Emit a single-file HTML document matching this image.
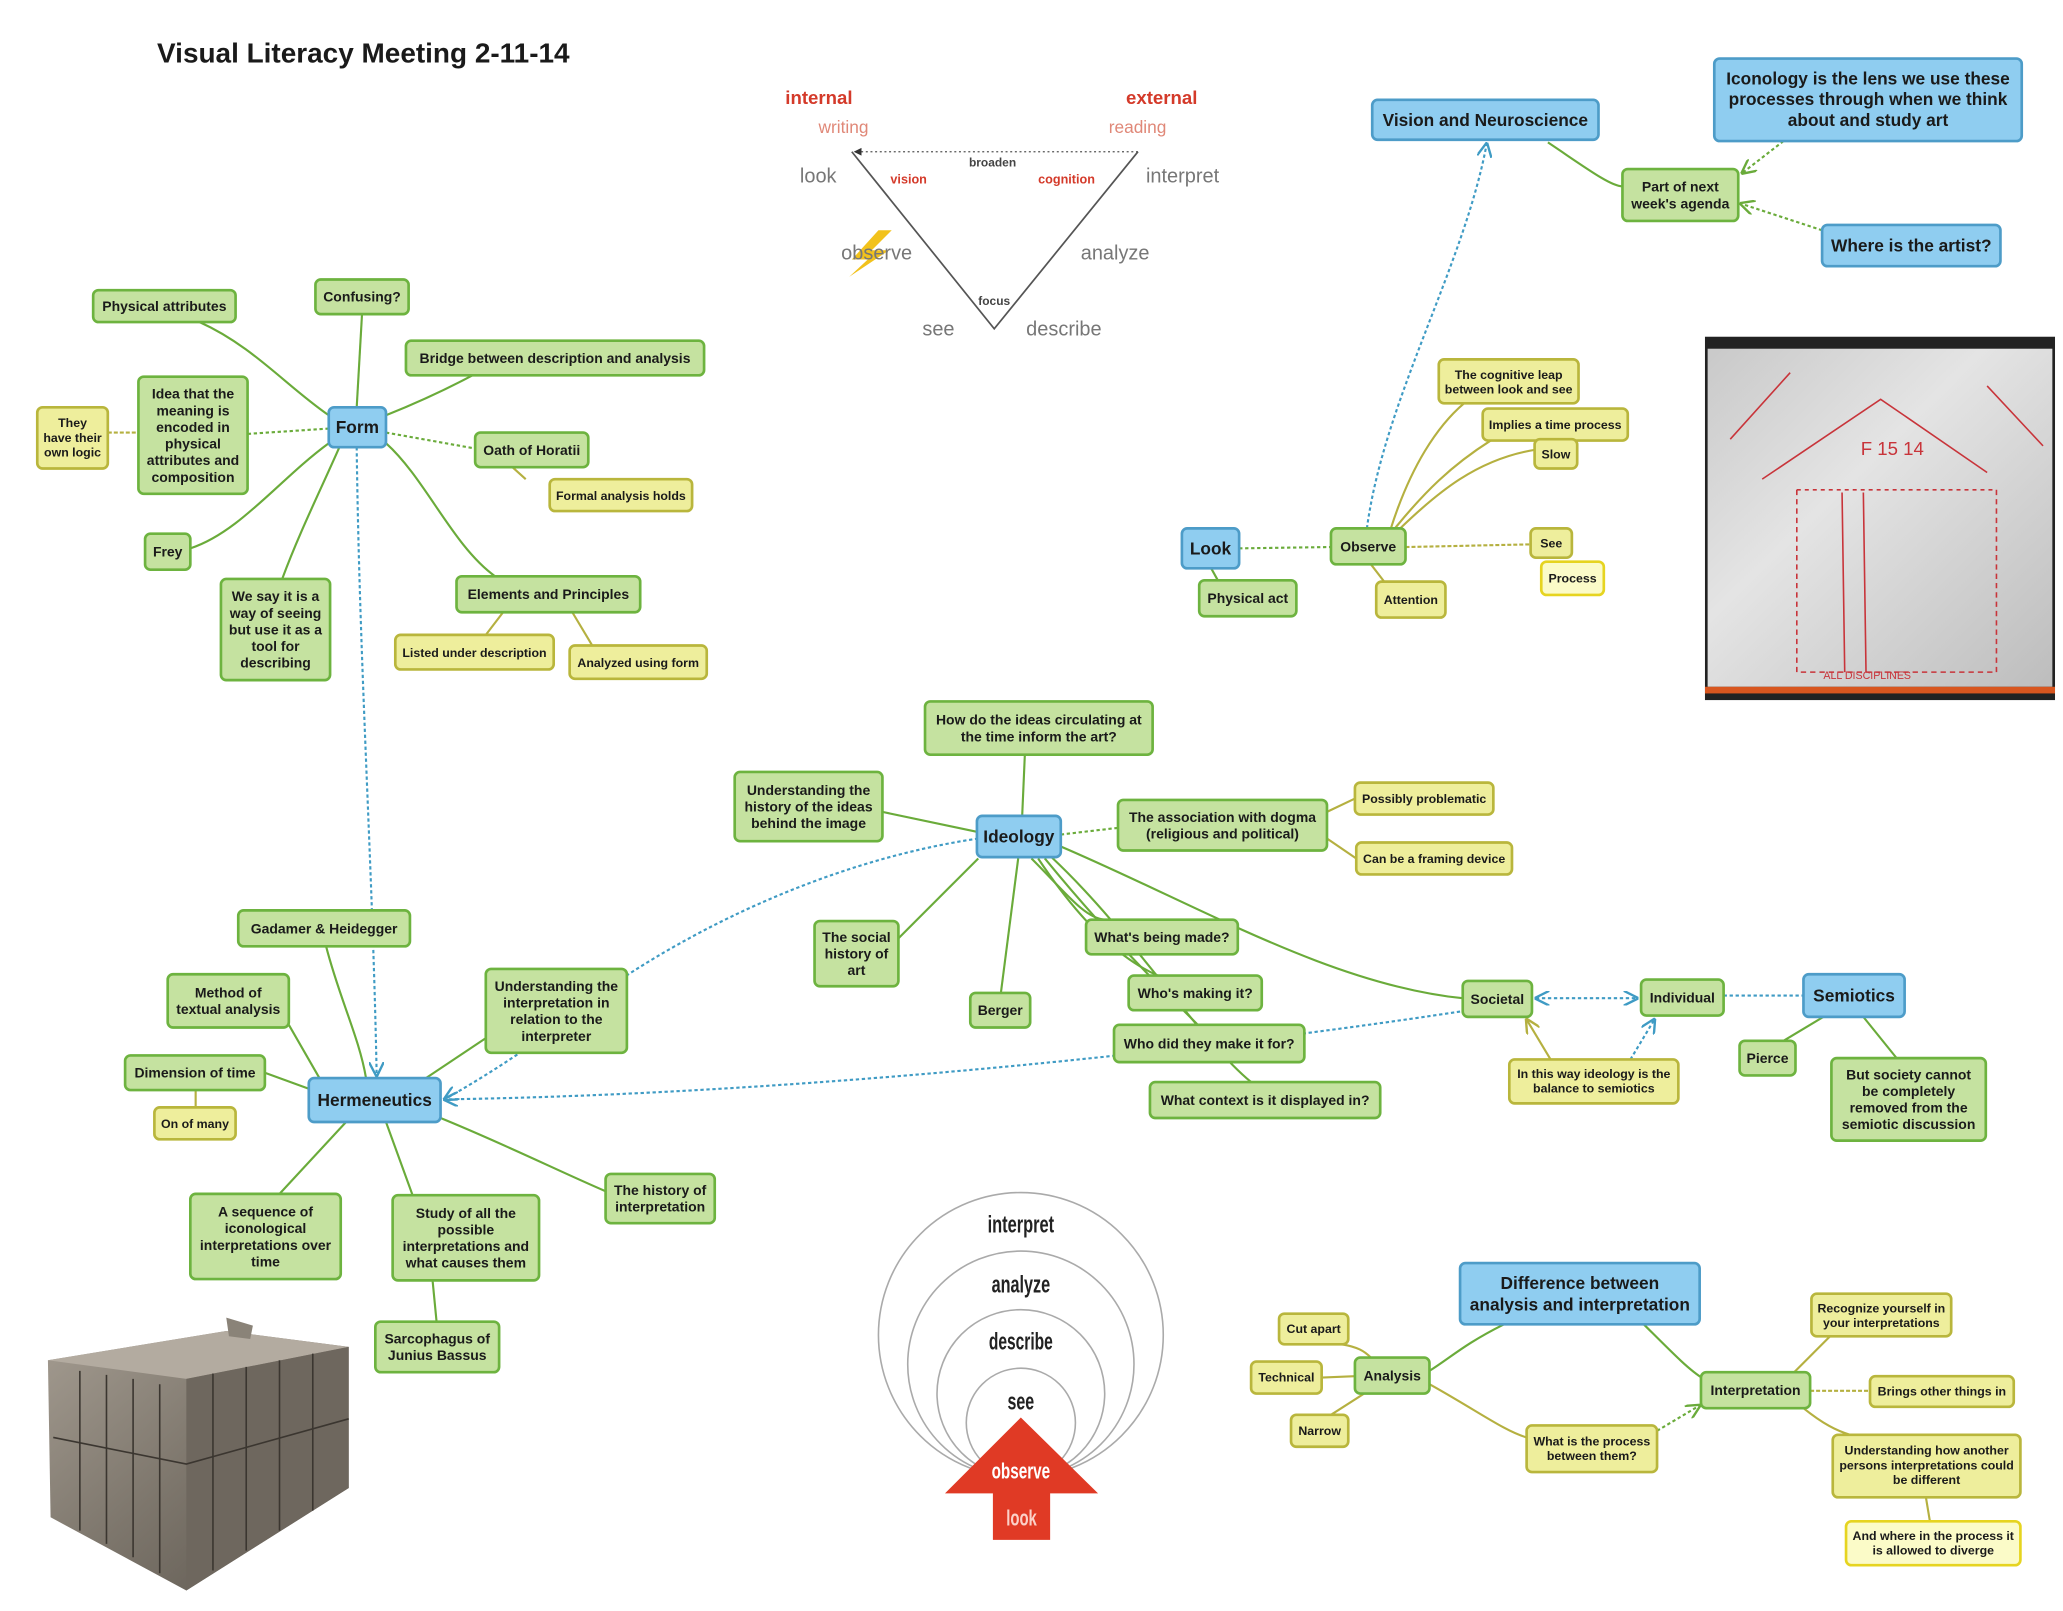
<!DOCTYPE html>
<html><head><meta charset="utf-8">
<style>
html,body{margin:0;padding:0;background:#fff}
svg{display:block}
text{font-family:"Liberation Sans",Arial,sans-serif;font-weight:bold;fill:#1a1a1a}
.g rect{fill:#c5e2a0;stroke:#6db33f;stroke-width:2}
.y rect{fill:#eeee9c;stroke:#b9b63c;stroke-width:2}
.yb rect{fill:#fbfbc8;stroke:#e6d420;stroke-width:2}
.b rect{fill:#8fcdf0;stroke:#4d9cc8;stroke-width:2}
.n text{text-anchor:middle;font-size:10.5px}
.s text{font-size:9.3px}
.big text{font-size:13px}
.lg{fill:none;stroke:#6aab3a;stroke-width:1.6}
.lo{fill:none;stroke:#b5b040;stroke-width:1.6}
.bd{fill:none;stroke:#3f9bc4;stroke-width:1.6;stroke-dasharray:2.5 2}
.gd{fill:none;stroke:#6aab3a;stroke-width:1.6;stroke-dasharray:2.5 2}
.od{fill:none;stroke:#b5b040;stroke-width:1.6;stroke-dasharray:3 1.5}
.cl{font-size:18px;fill:#222}
</style></head>
<body>
<svg width="2063" height="1611" viewBox="0 0 1550 1210.4" xmlns="http://www.w3.org/2000/svg">
<defs>
<marker id="ab" viewBox="0 0 10 10" refX="9" refY="5" markerWidth="7" markerHeight="7" orient="auto-start-reverse"><path d="M0,0 L10,5 L0,10" fill="none" stroke="#3f9bc4" stroke-width="1.6"/></marker>
<marker id="ag" viewBox="0 0 10 10" refX="9" refY="5" markerWidth="7" markerHeight="7" orient="auto-start-reverse"><path d="M0,0 L10,5 L0,10" fill="none" stroke="#6aab3a" stroke-width="1.6"/></marker>
<marker id="ao" viewBox="0 0 10 10" refX="9" refY="5" markerWidth="7" markerHeight="7" orient="auto-start-reverse"><path d="M0,0 L10,5 L0,10" fill="none" stroke="#b5b040" stroke-width="1.6"/></marker>
<marker id="ak" viewBox="0 0 10 10" refX="9" refY="5" markerWidth="6" markerHeight="6" orient="auto"><path d="M0,0 L10,5 L0,10 z" fill="#333"/></marker>
<linearGradient id="wb" x1="0" y1="0" x2="1" y2="1"><stop offset="0" stop-color="#c9c9c9"/><stop offset="0.4" stop-color="#e4e4e4"/><stop offset="1" stop-color="#bdbdbd"/></linearGradient>
<linearGradient id="sc" x1="0" y1="0" x2="1" y2="1"><stop offset="0" stop-color="#a39b90"/><stop offset="0.5" stop-color="#7d766c"/><stop offset="1" stop-color="#5b554d"/></linearGradient>
</defs>

<text x="118" y="47" style="font-size:21px">Visual Literacy Meeting 2-11-14</text>

<!-- Form -->
<path class="lg" d="M247,312 C215,290 190,260 150,242"/>
<path class="lg" d="M268,306 L272,236"/>
<path class="lg" d="M290,312 C320,300 340,290 355,282"/>
<path class="gd" d="M247,322 L186,326"/>
<path class="od" d="M81,325 L104,325"/>
<path class="gd" d="M290,325 L357,337"/>
<path class="lo" d="M385,351 L395,360"/>
<path class="lg" d="M247,333 C210,360 180,400 143,412"/>
<path class="lg" d="M255,336 C240,370 225,400 212,435"/>
<path class="lg" d="M290,333 C320,360 340,410 372,433"/>
<path class="lo" d="M378,460 L365,477"/>
<path class="lo" d="M430,460 L445,485"/>
<path class="bd" d="M268,336 C270,500 280,650 283,808" marker-end="url(#ab)"/>
<!-- Hermeneutics -->
<path class="lg" d="M245,711 C255,750 270,780 275,810"/>
<path class="lg" d="M217,770 L240,810"/>
<path class="lg" d="M199,806 L232,818"/>
<path class="lo" d="M147,819 L147,832"/>
<path class="lg" d="M365,780 L320,810"/>
<path class="lg" d="M331,840 C380,860 420,880 455,895"/>
<path class="lg" d="M260,843 L210,897"/>
<path class="lg" d="M290,843 L310,898"/>
<path class="lg" d="M325,962 L328,993"/>
<!-- Ideology -->
<path class="lg" d="M770,567 L768,613"/>
<path class="lg" d="M663,610 L734,625"/>
<path class="gd" d="M797,627 L840,622"/>
<path class="lo" d="M997,610 L1018,600"/>
<path class="lo" d="M997,630 L1019,645"/>
<path class="lg" d="M735,645 C710,670 690,690 675,705"/>
<path class="lg" d="M765,645 L752,746"/>
<path class="lg" d="M775,645 C800,670 815,690 830,691"/>
<path class="lg" d="M780,645 C810,690 840,720 870,733"/>
<path class="lg" d="M785,645 C830,700 870,740 900,770"/>
<path class="lg" d="M790,644 C850,700 900,780 940,813"/>
<path class="lg" d="M797,636 C900,680 1000,740 1099,750"/>
<path class="bd" d="M735,630 C600,650 480,720 420,770 Q380,800 334,826" marker-end="url(#ab)"/>
<path class="bd" d="M1097,760 C900,790 600,822 334,826" marker-end="url(#ab)"/>
<path class="bd" d="M1154,750 L1230,750" marker-start="url(#ab)" marker-end="url(#ab)"/>
<path class="bd" d="M1295,748 L1355,748"/>
<path class="lg" d="M1340,782 L1370,764"/>
<path class="lg" d="M1400,764 L1425,795"/>
<path class="lo" d="M1165,796 L1147,766" marker-end="url(#ao)"/>
<path class="bd" d="M1225,796 L1243,766" marker-end="url(#ab)"/>
<!-- Observe -->
<path class="gd" d="M931,412 L1000,411"/>
<path class="lg" d="M910,427 L915,436"/>
<path class="od" d="M1056,411 L1150,409"/>
<path class="lo" d="M1030,424 L1040,437"/>
<path class="lo" d="M1045,397 C1060,350 1080,320 1100,303"/>
<path class="lo" d="M1048,397 C1070,370 1090,350 1120,331"/>
<path class="lo" d="M1052,397 C1080,370 1110,345 1153,338"/>
<path class="bd" d="M1027,397 C1040,300 1100,200 1117,108" marker-end="url(#ab)"/>
<path class="lg" d="M1163,107 C1190,125 1210,140 1219,140"/>
<path class="gd" d="M1340,106 L1309,130" marker-end="url(#ag)"/>
<path class="gd" d="M1369,173 L1308,153" marker-end="url(#ag)"/>
<!-- Difference -->
<path class="lg" d="M1130,995 C1100,1010 1090,1020 1074,1030"/>
<path class="lg" d="M1235,995 C1260,1020 1270,1030 1280,1036"/>
<path class="lo" d="M1008,1010 C1020,1012 1025,1015 1030,1020"/>
<path class="lo" d="M993,1035 L1018,1034"/>
<path class="lo" d="M1000,1063 L1025,1047"/>
<path class="lo" d="M1074,1040 C1110,1060 1130,1075 1147,1080"/>
<path class="gd" d="M1245,1075 L1277,1056" marker-end="url(#ag)"/>
<path class="lo" d="M1375,1004 L1348,1031"/>
<path class="od" d="M1360,1045 L1405,1045"/>
<path class="lo" d="M1355,1058 C1370,1070 1380,1075 1390,1078"/>
<path class="lo" d="M1447,1125 L1450,1143"/>

<!-- Triangle diagram -->
<g>
<path d="M640,114 L747,247 L855,114" fill="none" stroke="#555" stroke-width="1.3"/>
<path d="M855,114 L642,114" fill="none" stroke="#555" stroke-width="1" stroke-dasharray="1.5 2" marker-end="url(#ak)"/>
<text x="590" y="78" style="font-size:14px;fill:#d43a2a">internal</text>
<text x="615" y="100" style="font-size:13px;fill:#e08878;font-weight:normal">writing</text>
<text x="846" y="78" style="font-size:14px;fill:#d43a2a">external</text>
<text x="833" y="100" style="font-size:13px;fill:#e08878;font-weight:normal">reading</text>
<text x="601" y="137" style="font-size:15px;fill:#777;font-weight:normal">look</text>
<text x="861" y="137" style="font-size:15px;fill:#777;font-weight:normal">interpret</text>
<path d="M660,173 L640,195 L652,195 L638,208 L668,188 L655,188 L670,173 z" fill="#f2c21c"/>
<text x="632" y="195" style="font-size:15px;fill:#777;font-weight:normal">observe</text>
<text x="812" y="195" style="font-size:15px;fill:#777;font-weight:normal">analyze</text>
<text x="693" y="252" style="font-size:15px;fill:#777;font-weight:normal">see</text>
<text x="771" y="252" style="font-size:15px;fill:#777;font-weight:normal">describe</text>
<text x="728" y="125" style="font-size:9px;fill:#444">broaden</text>
<text x="669" y="138" style="font-size:9.5px;fill:#d43a2a">vision</text>
<text x="780" y="138" style="font-size:9.5px;fill:#d43a2a">cognition</text>
<text x="735" y="229" style="font-size:9px;fill:#444">focus</text>
</g>

<!-- Circles diagram -->
<g fill="none" stroke="#aaa" stroke-width="1.2">
<circle cx="767" cy="1003" r="107"/>
<circle cx="767" cy="1025" r="85"/>
<circle cx="767" cy="1047" r="63"/>
<circle cx="767" cy="1069" r="41"/>
</g>
<text class="cl" x="742" y="926" textLength="50" lengthAdjust="spacingAndGlyphs">interpret</text>
<text class="cl" x="745" y="971" textLength="44" lengthAdjust="spacingAndGlyphs">analyze</text>
<text class="cl" x="743" y="1014" textLength="48" lengthAdjust="spacingAndGlyphs">describe</text>
<text class="cl" x="757" y="1059" textLength="20" lengthAdjust="spacingAndGlyphs">see</text>
<path d="M710,1122 L767,1065 L825,1122 L789,1122 L789,1157 L746,1157 L746,1122 z" fill="#e03a25"/>
<text x="745" y="1111" textLength="44" lengthAdjust="spacingAndGlyphs" style="font-size:17px;fill:#fff">observe</text>
<text x="756" y="1146" textLength="23" lengthAdjust="spacingAndGlyphs" style="font-size:17px;fill:#fbd0c8">look</text>

<!-- Whiteboard photo -->
<g>
<rect x="1281" y="253" width="263" height="273" fill="#222"/>
<rect x="1283" y="262" width="259" height="254" fill="url(#wb)"/>
<rect x="1281" y="516" width="263" height="5" fill="#d8561f"/>
<g fill="none" stroke="#c8343a" stroke-width="1.2">
<path d="M1324,360 L1413,300 L1493,355"/>
<path d="M1300,330 L1345,280 M1493,290 L1535,335"/>
<path d="M1350,368 L1350,505 L1500,505 L1500,368" stroke-dasharray="4 3"/>
<path d="M1350,368 L1500,368" stroke-dasharray="3 3"/>
<path d="M1384,370 L1386,505 M1400,370 L1402,505"/>
</g>
<text x="1398" y="342" style="fill:#c8343a;font-size:14px;font-weight:normal">F 15 14</text>
<text x="1370" y="510" style="fill:#c8343a;font-size:8px;font-weight:normal">ALL  DISCIPLINES</text>
</g>

<!-- Sarcophagus photo -->
<g>
<path d="M36,1022 L170,1000 L262,1012 L262,1118 L140,1195 L38,1140 z" fill="url(#sc)"/>
<path d="M36,1022 L170,1000 L262,1012 L140,1036 z" fill="#b3aba0"/>
<path d="M140,1036 L262,1012 L262,1118 L140,1195 z" fill="#6e675e"/>
<g stroke="#3b3630" stroke-width="1.2" fill="none">
<path d="M40,1080 L140,1100 L262,1066"/>
<path d="M60,1030 L60,1150 M80,1033 L80,1160 M100,1036 L100,1170 M120,1040 L120,1182"/>
<path d="M160,1032 L160,1180 M185,1027 L185,1165 M210,1022 L210,1150 M235,1017 L235,1135"/>
</g>
<path d="M170,990 L190,996 L188,1006 L172,1004 z" fill="#8a8378"/>
</g>

<!-- Nodes -->
<g class="n">
<g class="g"><rect x="70" y="218" width="107" height="24" rx="4"/><text x="123.5" y="233.7">Physical attributes</text></g>
<g class="g"><rect x="237" y="210" width="70" height="26" rx="4"/><text x="272" y="226.7">Confusing?</text></g>
<g class="g"><rect x="305" y="256" width="224" height="26" rx="4"/><text x="417" y="272.7">Bridge between description and analysis</text></g>
<g class="g"><rect x="104" y="283" width="82" height="88" rx="4"/><text x="145" y="299.5">Idea that the<tspan x="145" dy="12.5">meaning is</tspan><tspan x="145" dy="12.5">encoded in</tspan><tspan x="145" dy="12.5">physical</tspan><tspan x="145" dy="12.5">attributes and</tspan><tspan x="145" dy="12.5">composition</tspan></text></g>
<g class="y s"><rect x="28" y="306" width="53" height="46" rx="4"/><text x="54.5" y="321">They<tspan x="54.5" dy="11">have their</tspan><tspan x="54.5" dy="11">own logic</tspan></text></g>
<g class="b big"><rect x="247" y="306" width="43" height="30" rx="4"/><text x="268.5" y="325.5">Form</text></g>
<g class="g"><rect x="357" y="325" width="85" height="26" rx="4"/><text x="399.5" y="341.7">Oath of Horatii</text></g>
<g class="y s"><rect x="413" y="360" width="107" height="24" rx="4"/><text x="466.5" y="375.5">Formal analysis holds</text></g>
<g class="g"><rect x="109" y="401" width="34" height="27" rx="4"/><text x="126" y="418.2">Frey</text></g>
<g class="g"><rect x="166" y="435" width="82" height="76" rx="4"/><text x="207" y="451.7">We say it is a<tspan x="207" dy="12.5">way of seeing</tspan><tspan x="207" dy="12.5">but use it as a</tspan><tspan x="207" dy="12.5">tool for</tspan><tspan x="207" dy="12.5">describing</tspan></text></g>
<g class="g"><rect x="343" y="433" width="138" height="27" rx="4"/><text x="412" y="450.2">Elements and Principles</text></g>
<g class="y s"><rect x="297" y="477" width="119" height="26" rx="4"/><text x="356.5" y="493.5">Listed under description</text></g>
<g class="y s"><rect x="428" y="485" width="103" height="25" rx="4"/><text x="479.5" y="501">Analyzed using form</text></g>

<g class="g"><rect x="179" y="684" width="129" height="27" rx="4"/><text x="243.5" y="701.2">Gadamer &amp; Heidegger</text></g>
<g class="g"><rect x="126" y="732" width="91" height="40" rx="4"/><text x="171.5" y="749.5">Method of<tspan x="171.5" dy="12.5">textual analysis</tspan></text></g>
<g class="g"><rect x="94" y="793" width="105" height="26" rx="4"/><text x="146.5" y="809.7">Dimension of time</text></g>
<g class="y s"><rect x="116" y="832" width="61" height="24" rx="4"/><text x="146.5" y="847.5">On of many</text></g>
<g class="b big"><rect x="232" y="810" width="99" height="33" rx="4"/><text x="281.5" y="831">Hermeneutics</text></g>
<g class="g"><rect x="365" y="728" width="106" height="63" rx="4"/><text x="418" y="744.5">Understanding the<tspan x="418" dy="12.5">interpretation in</tspan><tspan x="418" dy="12.5">relation to the</tspan><tspan x="418" dy="12.5">interpreter</tspan></text></g>
<g class="g"><rect x="455" y="882" width="82" height="37" rx="4"/><text x="496" y="897.9">The history of<tspan x="496" dy="12.5">interpretation</tspan></text></g>
<g class="g"><rect x="143" y="897" width="113" height="64" rx="4"/><text x="199.5" y="914">A sequence of<tspan x="199.5" dy="12.5">iconological</tspan><tspan x="199.5" dy="12.5">interpretations over</tspan><tspan x="199.5" dy="12.5">time</tspan></text></g>
<g class="g"><rect x="295" y="898" width="110" height="64" rx="4"/><text x="350" y="915">Study of all the<tspan x="350" dy="12.5">possible</tspan><tspan x="350" dy="12.5">interpretations and</tspan><tspan x="350" dy="12.5">what causes them</tspan></text></g>
<g class="g"><rect x="282" y="993" width="93" height="38" rx="4"/><text x="328.5" y="1009.5">Sarcophagus of<tspan x="328.5" dy="12.5">Junius Bassus</tspan></text></g>

<g class="g"><rect x="695" y="527" width="171" height="40" rx="4"/><text x="780.5" y="544.5">How do the ideas circulating at<tspan x="780.5" dy="12.5">the time inform the art?</tspan></text></g>
<g class="g"><rect x="552" y="580" width="111" height="52" rx="4"/><text x="607.5" y="597.2">Understanding the<tspan x="607.5" dy="12.5">history of the ideas</tspan><tspan x="607.5" dy="12.5">behind the image</tspan></text></g>
<g class="b big"><rect x="734" y="613" width="63" height="31" rx="4"/><text x="765.5" y="633">Ideology</text></g>
<g class="g"><rect x="840" y="601" width="157" height="38" rx="4"/><text x="918.5" y="617.5">The association with dogma<tspan x="918.5" dy="12.5">(religious and political)</tspan></text></g>
<g class="y s"><rect x="1018" y="588" width="104" height="24" rx="4"/><text x="1070" y="603.5">Possibly problematic</text></g>
<g class="y s"><rect x="1019" y="633" width="117" height="24" rx="4"/><text x="1077.5" y="648.5">Can be a framing device</text></g>
<g class="g"><rect x="612" y="692" width="63" height="49" rx="4"/><text x="643.5" y="707.7">The social<tspan x="643.5" dy="12.5">history of</tspan><tspan x="643.5" dy="12.5">art</tspan></text></g>
<g class="g"><rect x="816" y="691" width="114" height="26" rx="4"/><text x="873" y="707.7">What's being made?</text></g>
<g class="g"><rect x="848" y="733" width="100" height="26" rx="4"/><text x="898" y="749.7">Who's making it?</text></g>
<g class="g"><rect x="729" y="746" width="45" height="26" rx="4"/><text x="751.5" y="762.7">Berger</text></g>
<g class="g"><rect x="837" y="770" width="143" height="28" rx="4"/><text x="908.5" y="787.7">Who did they make it for?</text></g>
<g class="g"><rect x="864" y="813" width="173" height="27" rx="4"/><text x="950.5" y="830.2">What context is it displayed in?</text></g>
<g class="g"><rect x="1099" y="737" width="52" height="27" rx="4"/><text x="1125" y="754.2">Societal</text></g>
<g class="g"><rect x="1233" y="736" width="62" height="27" rx="4"/><text x="1264" y="753.2">Individual</text></g>
<g class="b big"><rect x="1355" y="732" width="76" height="32" rx="4"/><text x="1393" y="752.5">Semiotics</text></g>
<g class="g"><rect x="1307" y="782" width="42" height="26" rx="4"/><text x="1328" y="798.7">Pierce</text></g>
<g class="g"><rect x="1376" y="795" width="116" height="62" rx="4"/><text x="1434" y="810.9">But society cannot<tspan x="1434" dy="12.5">be completely</tspan><tspan x="1434" dy="12.5">removed from the</tspan><tspan x="1434" dy="12.5">semiotic discussion</tspan></text></g>
<g class="y s"><rect x="1134" y="796" width="127" height="33" rx="4"/><text x="1197.5" y="810">In this way ideology is the<tspan x="1197.5" dy="11">balance to semiotics</tspan></text></g>

<g class="b big"><rect x="888" y="397" width="43" height="30" rx="4"/><text x="909.5" y="416.5">Look</text></g>
<g class="g"><rect x="1000" y="397" width="56" height="27" rx="4"/><text x="1028" y="414.2">Observe</text></g>
<g class="g"><rect x="901" y="436" width="73" height="27" rx="4"/><text x="937.5" y="453.2">Physical act</text></g>
<g class="y s"><rect x="1034" y="437" width="52" height="27" rx="4"/><text x="1060" y="453.7">Attention</text></g>
<g class="y s"><rect x="1081" y="270" width="105" height="33" rx="4"/><text x="1133.5" y="284.8">The cognitive leap<tspan x="1133.5" dy="11">between look and see</tspan></text></g>
<g class="y s"><rect x="1114" y="307" width="109" height="24" rx="4"/><text x="1168.5" y="322.5">Implies a time process</text></g>
<g class="y s"><rect x="1153" y="330" width="32" height="22" rx="4"/><text x="1169" y="344.5">Slow</text></g>
<g class="y s"><rect x="1150" y="397" width="31" height="22" rx="4"/><text x="1165.5" y="411.5">See</text></g>
<g class="yb s"><rect x="1158" y="422" width="47" height="25" rx="4"/><text x="1181.5" y="437.8">Process</text></g>

<g class="b big"><rect x="1031" y="75" width="170" height="30" rx="4"/><text x="1116" y="94.5">Vision and Neuroscience</text></g>
<g class="b big"><rect x="1288" y="44" width="231" height="62" rx="4"/><text x="1403.5" y="63.5">Iconology is the lens we use these<tspan x="1403.5" dy="15.5">processes through when we think</tspan><tspan x="1403.5" dy="15.5">about and study art</tspan></text></g>
<g class="g"><rect x="1219" y="127" width="87" height="39" rx="4"/><text x="1262.5" y="144">Part of next<tspan x="1262.5" dy="12.5">week's agenda</tspan></text></g>
<g class="b big"><rect x="1369" y="169" width="134" height="31" rx="4"/><text x="1436" y="189">Where is the artist?</text></g>

<g class="b big"><rect x="1097" y="949" width="180" height="46" rx="4"/><text x="1187" y="968.5">Difference between<tspan x="1187" dy="16">analysis and interpretation</tspan></text></g>
<g class="y s"><rect x="961" y="987" width="52" height="23" rx="4"/><text x="987" y="1001.5">Cut apart</text></g>
<g class="y s"><rect x="940" y="1023" width="53" height="24" rx="4"/><text x="966.5" y="1038">Technical</text></g>
<g class="g"><rect x="1018" y="1020" width="56" height="27" rx="4"/><text x="1046" y="1037.2">Analysis</text></g>
<g class="y s"><rect x="970" y="1063" width="43" height="24" rx="4"/><text x="991.5" y="1078">Narrow</text></g>
<g class="y s"><rect x="1147" y="1071" width="98" height="35" rx="4"/><text x="1196" y="1086">What is the process<tspan x="1196" dy="11">between them?</tspan></text></g>
<g class="g"><rect x="1278" y="1031" width="82" height="27" rx="4"/><text x="1319" y="1048.2">Interpretation</text></g>
<g class="y s"><rect x="1361" y="972" width="105" height="32" rx="4"/><text x="1413.5" y="986">Recognize yourself in<tspan x="1413.5" dy="11">your interpretations</tspan></text></g>
<g class="y s"><rect x="1405" y="1034" width="108" height="23" rx="4"/><text x="1459" y="1048.5">Brings other things in</text></g>
<g class="y s"><rect x="1377" y="1078" width="141" height="47" rx="4"/><text x="1447.5" y="1093">Understanding how another<tspan x="1447.5" dy="11">persons interpretations could</tspan><tspan x="1447.5" dy="11">be different</tspan></text></g>
<g class="yb s"><rect x="1387" y="1143" width="131" height="33" rx="4"/><text x="1452.5" y="1157">And where in the process it<tspan x="1452.5" dy="11">is allowed to diverge</tspan></text></g>
</g>
</svg>
</body></html>
